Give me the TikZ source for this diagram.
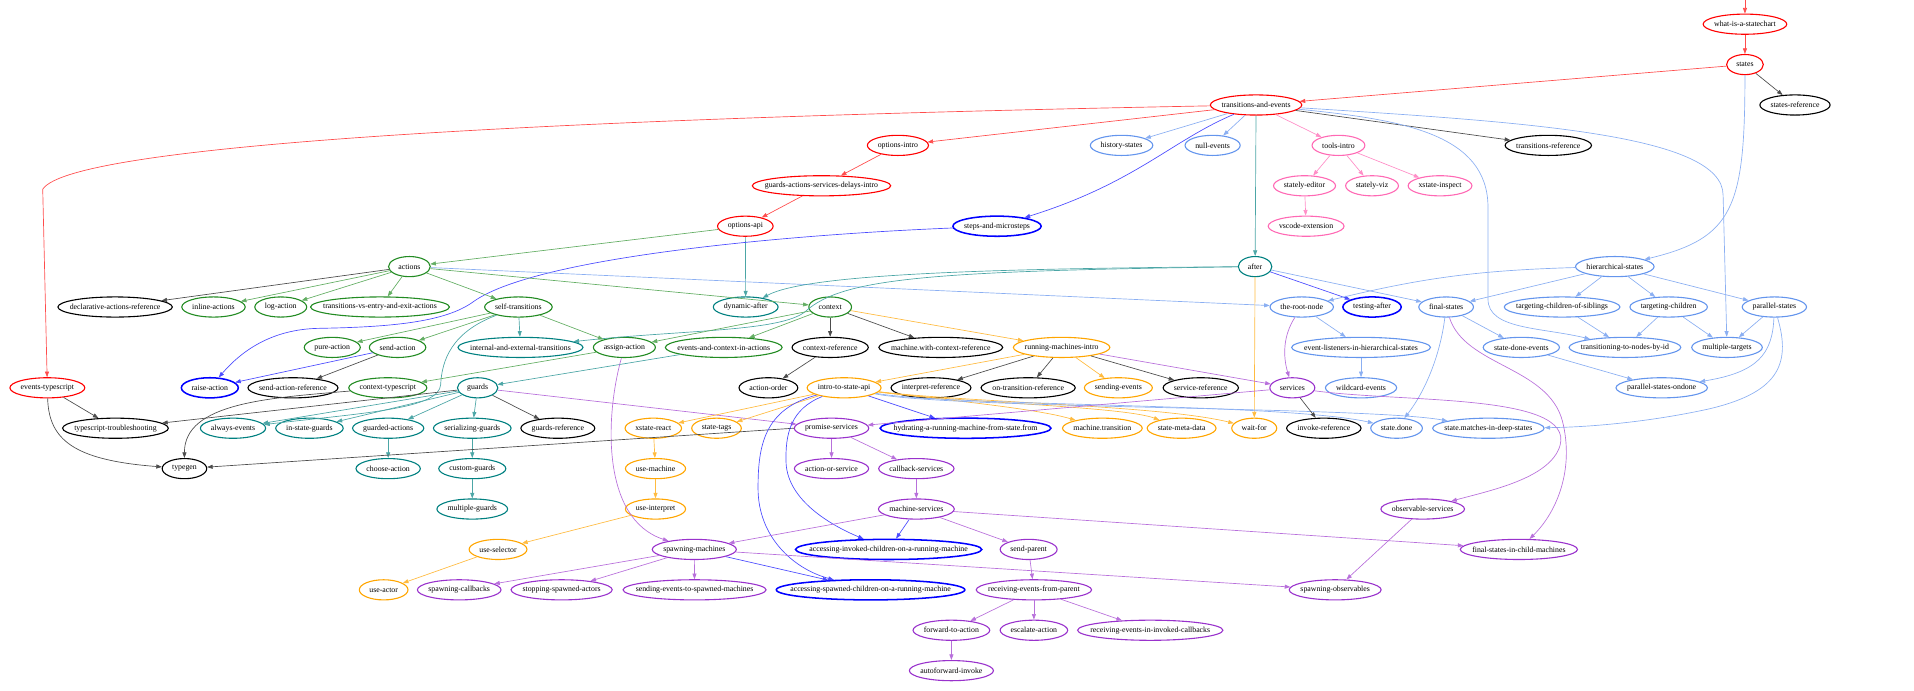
\documentclass[tikz,border=0pt]{standalone}
\usepackage{fontspec}
\setmainfont{Liberation Serif}
\usetikzlibrary{arrows.meta,shapes.geometric}
\definecolor{cR}{HTML}{FF0000}
\definecolor{cK}{HTML}{000000}
\definecolor{cB}{HTML}{6495ED}
\definecolor{cP}{HTML}{FF69B4}
\definecolor{cU}{HTML}{0000FF}
\definecolor{cG}{HTML}{228B22}
\definecolor{cT}{HTML}{008080}
\definecolor{cO}{HTML}{FFA500}
\definecolor{cV}{HTML}{9932CC}
\newcommand\gfont{\fontsize{6.4}{7.5}\selectfont}
\newcommand\gn[5]{\node[gnode,#1] (#2) at (#3,{19.8+33.1*#4}) {\makebox[0.75\width]{#5}};}
\tikzset{
  gnode/.style={ellipse,draw,line width=0.9pt,inner xsep=5.3pt,inner ysep=0pt,minimum height=16.5pt,font=\gfont,text=black},
  nR/.style={draw=cR}, nK/.style={draw=cK}, nB/.style={draw=cB}, nP/.style={draw=cP},
  nU/.style={draw=cU,line width=1.25pt}, nG/.style={draw=cG}, nT/.style={draw=cT},
  nO/.style={draw=cO}, nV/.style={draw=cV},
  gedge/.style={line width=0.55pt,-{Triangle[length=4.6pt,width=3.3pt]}},
  eR/.style={gedge,draw=cR!70!white}, eK/.style={gedge,draw=black!70!white},
  eB/.style={gedge,draw=cB!75!white}, eP/.style={gedge,draw=cP!75!white},
  eU/.style={gedge,draw=cU!70!white}, eG/.style={gedge,draw=cG!70!white},
  eT/.style={gedge,draw=cT!70!white}, eO/.style={gedge,draw=cO!75!white},
  eV/.style={gedge,draw=cV!70!white}
}
\begin{document}
\begin{tikzpicture}[x=1pt,y=-1pt]
\useasboundingbox (0,0) rectangle (1568,566);
% rank 0-5
\gn{nR}{what}{1429.5}{0}{what-is-a-statechart}
\gn{nR}{states}{1429.5}{1}{states}
\gn{nR}{tae}{1029}{2}{transitions-and-events}
\gn{nK}{statesref}{1470.5}{2}{states-reference}
\gn{nR}{optintro}{735.6}{3}{options-intro}
\gn{nB}{history}{918.8}{3}{history-states}
\gn{nB}{nullev}{993.4}{3}{null-events}
\gn{nP}{tools}{1096.5}{3}{tools-intro}
\gn{nK}{transref}{1268.4}{3}{transitions-reference}
\gn{nR}{gasdi}{673}{4}{guards-actions-services-delays-intro}
\gn{nP}{editor}{1068.7}{4}{stately-editor}
\gn{nP}{viz}{1124}{4}{stately-viz}
\gn{nP}{inspect}{1179.7}{4}{xstate-inspect}
\gn{nR}{optapi}{610.6}{5}{options-api}
\gn{nU}{steps}{816.8}{5}{steps-and-microsteps}
\gn{nP}{vscode}{1070}{5}{vscode-extension}
% rank 6-7
\gn{nG}{actions}{335.4}{6}{actions}
\gn{nT}{after}{1028.2}{6}{after}
\gn{nB}{hier}{1322.9}{6}{hierarchical-states}
\gn{nK}{declref}{94.3}{7}{declarative-actions-reference}
\gn{nG}{inline}{174.9}{7}{inline-actions}
\gn{nG}{logact}{230}{7}{log-action}
\gn{nG}{tvee}{311.3}{7}{transitions-vs-entry-and-exit-actions}
\gn{nG}{selftr}{424.7}{7}{self-transitions}
\gn{nT}{dynafter}{610.9}{7}{dynamic-after}
\gn{nG}{context}{680.1}{7}{context}
\gn{nB}{root}{1066.4}{7}{the-root-node}
\gn{nU}{testafter}{1124}{7}{testing-after}
\gn{nB}{final}{1184.7}{7}{final-states}
\gn{nB}{tcos}{1279.7}{7}{targeting-children-of-siblings}
\gn{nB}{tc}{1367}{7}{targeting-children}
\gn{nB}{parallel}{1453.6}{7}{parallel-states}
% rank 8
\gn{nG}{pure}{272.2}{8}{pure-action}
\gn{nG}{sendact}{325.7}{8}{send-action}
\gn{nT}{internal}{426.4}{8}{internal-and-external-transitions}
\gn{nG}{assign}{511.5}{8}{assign-action}
\gn{nG}{eacia}{592.9}{8}{events-and-context-in-actions}
\gn{nK}{ctxref}{680.1}{8}{context-reference}
\gn{nK}{mwcr}{770.7}{8}{machine.with-context-reference}
\gn{nO}{rmi}{869.7}{8}{running-machines-intro}
\gn{nB}{evlist}{1115}{8}{event-listeners-in-hierarchical-states}
\gn{nB}{sde}{1246.3}{8}{state-done-events}
\gn{nB}{ttnbi}{1331.2}{8}{transitioning-to-nodes-by-id}
\gn{nB}{mtargets}{1414.8}{8}{multiple-targets}
% rank 9
\gn{nR}{evts}{38.8}{9}{events-typescript}
\gn{nU}{raise}{171.9}{9}{raise-action}
\gn{nK}{sendref}{240}{9}{send-action-reference}
\gn{nG}{ctxts}{317.7}{9}{context-typescript}
\gn{nT}{guards}{391.3}{9}{guards}
\gn{nK}{actorder}{629.5}{9}{action-order}
\gn{nO}{itsa}{691.5}{9}{intro-to-state-api}
\gn{nK}{interpref}{762.7}{9}{interpret-reference}
\gn{nK}{ontrans}{842.3}{9}{on-transition-reference}
\gn{nO}{sendev}{916.2}{9}{sending-events}
\gn{nK}{servref}{983.7}{9}{service-reference}
\gn{nV}{services}{1058.7}{9}{services}
\gn{nB}{wildcard}{1115}{9}{wildcard-events}
\gn{nB}{psod}{1361.3}{9}{parallel-states-ondone}
% rank 10
\gn{nK}{tst}{94.6}{10}{typescript-troubleshooting}
\gn{nT}{always}{190.9}{10}{always-events}
\gn{nT}{instate}{253.5}{10}{in-state-guards}
\gn{nT}{guarded}{318}{10}{guarded-actions}
\gn{nT}{serial}{386.9}{10}{serializing-guards}
\gn{nK}{guardsref}{457}{10}{guards-reference}
\gn{nO}{xreact}{535.2}{10}{xstate-react}
\gn{nO}{statetags}{587}{10}{state-tags}
\gn{nV}{promise}{681.2}{10}{promise-services}
\gn{nU}{hydrating}{791}{10}{hydrating-a-running-machine-from-state.from}
\gn{nO}{mtransition}{903.1}{10}{machine.transition}
\gn{nO}{smeta}{968}{10}{state-meta-data}
\gn{nO}{waitfor}{1027.5}{10}{wait-for}
\gn{nK}{invref}{1084.5}{10}{invoke-reference}
\gn{nB}{statedone}{1144.1}{10}{state.done}
\gn{nB}{smatches}{1219.3}{10}{state.matches-in-deep-states}
% rank 11-12
\gn{nK}{typegen}{151.1}{11}{typegen}
\gn{nT}{choose}{318}{11}{choose-action}
\gn{nT}{custom}{386.9}{11}{custom-guards}
\gn{nO}{usemachine}{537}{11}{use-machine}
\gn{nV}{aos}{681.2}{11}{action-or-service}
\gn{nV}{callback}{750.7}{11}{callback-services}
\gn{nT}{multguards}{386.9}{12}{multiple-guards}
\gn{nO}{useinterp}{537}{12}{use-interpret}
\gn{nV}{machserv}{750.7}{12}{machine-services}
\gn{nV}{obs}{1165.5}{12}{observable-services}
% rank 13-16
\gn{nO}{usesel}{408}{13}{use-selector}
\gn{nV}{spawnm}{568.8}{13}{spawning-machines}
\gn{nU}{accinv}{728}{13}{accessing-invoked-children-on-a-running-machine}
\gn{nV}{sendparent}{842.7}{13}{send-parent}
\gn{nV}{fsicm}{1244.3}{13}{final-states-in-child-machines}
\gn{nO}{useactor}{314.3}{14}{use-actor}
\gn{nV}{spawncb}{376.2}{14}{spawning-callbacks}
\gn{nV}{stopsp}{460.1}{14}{stopping-spawned-actors}
\gn{nV}{setsm}{569}{14}{sending-events-to-spawned-machines}
\gn{nU}{accspawn}{713.2}{14}{accessing-spawned-children-on-a-running-machine}
\gn{nV}{recv}{847}{14}{receiving-events-from-parent}
\gn{nV}{spawnobs}{1093.8}{14}{spawning-observables}
\gn{nV}{fwd}{779.4}{15}{forward-to-action}
\gn{nV}{escalate}{847}{15}{escalate-action}
\gn{nV}{reiic}{942.3}{15}{receiving-events-in-invoked-callbacks}
\gn{nV}{autofwd}{779.4}{16}{autoforward-invoke}
% ---------------- edges
\coordinate (topin) at (1429.5,0);
\draw[eR] (topin) -- (what);
\draw[eR] (what) -- (states);
\draw[eR] (states) -- (tae);
\draw[eK] (states) -- (statesref);
\draw[eB] (states) .. controls (1429.5,170) and (1420,195) .. (hier);
\draw[eR] (tae) .. controls (500,96) and (60,116) .. (35,155) -- (evts);
\draw[eR] (tae) -- (optintro);
\draw[eB] (tae) -- (history);
\draw[eB] (tae) -- (nullev);
\draw[eP] (tae) -- (tools);
\draw[eK] (tae) -- (transref);
\draw[eU] (tae) .. controls (960,115) and (930,150) .. (steps);
\draw[eT] (tae) -- (after);
\draw[eB] (tae) .. controls (1150,98) and (1219,110) .. (1219,170) -- (1219,245) .. controls (1219,270) and (1262,268) .. (ttnbi);
\draw[eB] (tae) .. controls (1250,100) and (1411.6,110) .. (1411.6,160) -- (mtargets);
\draw[eP] (tools) -- (editor);
\draw[eP] (tools) -- (viz);
\draw[eP] (tools) -- (inspect);
\draw[eP] (editor) -- (vscode);
\draw[eR] (optintro) -- (gasdi);
\draw[eR] (gasdi) -- (optapi);
\draw[eG] (optapi) -- (actions);
\draw[eT] (optapi) -- (dynafter);
\draw[eU] (steps) .. controls (650,192) and (440,210) .. (388,247) .. controls (365,264) and (320,268) .. (260,269) .. controls (225,270) and (200,285) .. (raise);
\draw[eK] (actions) -- (declref);
\draw[eG] (actions) -- (inline);
\draw[eG] (actions) -- (logact);
\draw[eG] (actions) -- (tvee);
\draw[eG] (actions) -- (selftr);
\draw[eG] (actions) -- (context);
\draw[eB] (actions) -- (root);
\draw[eT] (after) .. controls (800,220) and (660,225) .. (dynafter);
\draw[eT] (after) .. controls (760,222) and (690,228) .. (660,255) .. controls (640,272) and (560,270) .. (internal);
\draw[eU] (after) -- (testafter);
\draw[eB] (after) -- (final);
\draw[eO] (after) -- (waitfor);
\draw[eB] (hier) to[bend right=6] (root);
\draw[eB] (hier) -- (final);
\draw[eB] (hier) -- (tcos);
\draw[eB] (hier) -- (tc);
\draw[eB] (hier) -- (parallel);
\draw[eB] (tcos) -- (ttnbi);
\draw[eB] (tc) -- (ttnbi);
\draw[eB] (tc) -- (mtargets);
\draw[eB] (parallel) -- (mtargets);
\draw[eB] (parallel) .. controls (1452,290) and (1440,305) .. (psod);
\draw[eB] (parallel) .. controls (1468,300) and (1455,322) .. (1400,335) .. controls (1350,346) and (1300,350) .. (smatches);
\draw[eB] (sde) -- (psod);
\draw[eB] (root) -- (evlist);
\draw[eB] (evlist) -- (wildcard);
\draw[eV] (root) .. controls (1051,275) and (1051,292) .. (services);
\draw[eB] (final) -- (sde);
\draw[eB] (final) .. controls (1180,290) and (1168,320) .. (statedone);
\draw[eV] (final) .. controls (1200,300) and (1268,300) .. (1280,345) .. controls (1290,385) and (1275,420) .. (fsicm);
\draw[eG] (selftr) -- (pure);
\draw[eG] (selftr) -- (sendact);
\draw[eG] (selftr) -- (assign);
\draw[eT] (selftr) -- (internal);
\draw[eT] (selftr) .. controls (370,272) and (362,295) .. (361,315) .. controls (360,335) and (300,338) .. (always);
\draw[eU] (sendact) -- (raise);
\draw[eK] (sendact) -- (sendref);
\draw[eG] (context) -- (assign);
\draw[eG] (context) -- (eacia);
\draw[eK] (context) -- (ctxref);
\draw[eK] (context) -- (mwcr);
\draw[eO] (context) -- (rmi);
\draw[eG] (assign) -- (ctxts);
\draw[eT] (eacia) -- (guards);
\draw[eV] (assign) .. controls (496,340) and (492,425) .. (spawnm);
\draw[eK] (ctxref) -- (actorder);
\draw[eO] (rmi) -- (itsa);
\draw[eK] (rmi) -- (interpref);
\draw[eK] (rmi) -- (ontrans);
\draw[eK] (rmi) -- (servref);
\draw[eO] (rmi) -- (sendev);
\draw[eV] (rmi) -- (services);
\draw[eT] (guards) -- (always);
\draw[eT] (guards) -- (instate);
\draw[eT] (guards) -- (guarded);
\draw[eT] (guards) -- (serial);
\draw[eK] (guards) -- (guardsref);
\draw[eV] (guards) -- (promise);
\draw[eK] (guards) -- (tst);
\draw[eT] (guarded) -- (choose);
\draw[eT] (serial) -- (custom);
\draw[eT] (custom) -- (multguards);
\draw[eK] (evts) -- (tst);
\draw[eK] (evts) .. controls (40,360) and (60,377) .. (typegen);
\draw[eK] (ctxts) .. controls (220,326) and (151,330) .. (typegen);
\draw[eK] (promise.west) -- (typegen);
\draw[eO] (itsa) -- (xreact);
\draw[eO] (itsa) -- (statetags);
\draw[eU] (itsa) -- (hydrating);
\draw[eO] (itsa) .. controls (780,328) and (850,335) .. (mtransition);
\draw[eO] (itsa) .. controls (790,330) and (920,333) .. (smeta);
\draw[eO] (itsa) .. controls (800,330) and (950,332) .. (waitfor);
\draw[eB] (itsa) .. controls (780,333) and (1050,330) .. (statedone);
\draw[eB] (itsa) .. controls (780,335) and (1120,333) .. (smatches);
\draw[eU] (itsa) .. controls (626,335) and (621,365) .. (621,400) .. controls (621,440) and (650,466) .. (accspawn);
\draw[eU] (itsa) .. controls (648,335) and (643,355) .. (644,380) .. controls (646,410) and (680,430) .. (accinv);
\draw[eV] (promise) -- (aos);
\draw[eV] (promise) -- (callback);
\draw[eV] (callback) -- (machserv);
\draw[eV] (machserv) -- (spawnm);
\draw[eU] (machserv) -- (accinv);
\draw[eV] (machserv) -- (sendparent);
\draw[eV] (machserv) -- (fsicm);
\draw[eK] (services) -- (invref);
\draw[eV] (services) -- (promise);
\draw[eV] (services) .. controls (1150,330) and (1290,322) .. (1278,365) .. controls (1270,392) and (1220,402) .. (obs);
\draw[eV] (spawnm) -- (spawncb);
\draw[eV] (spawnm) -- (stopsp);
\draw[eV] (spawnm) -- (setsm);
\draw[eU] (spawnm) -- (accspawn);
\draw[eV] (spawnm) -- (spawnobs);
\draw[eV] (sendparent) -- (recv);
\draw[eV] (recv) -- (fwd);
\draw[eV] (recv) -- (escalate);
\draw[eV] (recv) -- (reiic);
\draw[eV] (fwd) -- (autofwd);
\draw[eV] (obs) -- (spawnobs);
\draw[eO] (xreact) -- (usemachine);
\draw[eO] (usemachine) -- (useinterp);
\draw[eO] (useinterp) -- (usesel);
\draw[eO] (usesel) -- (useactor);
\end{tikzpicture}
\end{document}
